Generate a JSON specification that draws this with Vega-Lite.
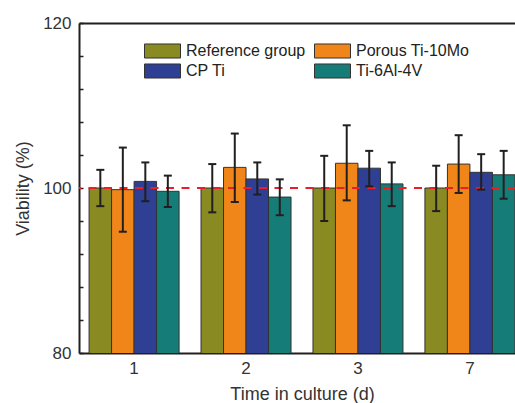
{
  "$schema": "https://vega.github.io/schema/vega-lite/v6.json",
  "width": 436,
  "height": 330,
  "autosize": {"type": "none"},
  "padding": {"left": 79, "top": 23, "right": 0, "bottom": 50},
  "background": "white",
  "config": {
    "view": {"stroke": null},
    "font": "Liberation Sans",
    "axis": {"grid": false, "labelColor": "#333333", "titleColor": "#333333", "titleFontWeight": "normal", "domainColor": "#231f20", "tickColor": "#231f20"}
  },
  "data": {
    "values": [
      {"day": "1", "group": "Reference group", "mean": 100.0, "lower": 97.8, "upper": 102.2},
      {"day": "1", "group": "Porous Ti-10Mo", "mean": 99.8, "lower": 94.7, "upper": 104.9},
      {"day": "1", "group": "CP Ti", "mean": 100.8, "lower": 98.4, "upper": 103.1},
      {"day": "1", "group": "Ti-6Al-4V", "mean": 99.6, "lower": 97.7, "upper": 101.5},
      {"day": "2", "group": "Reference group", "mean": 100.0, "lower": 97.05, "upper": 102.9},
      {"day": "2", "group": "Porous Ti-10Mo", "mean": 102.5, "lower": 98.3, "upper": 106.6},
      {"day": "2", "group": "CP Ti", "mean": 101.1, "lower": 99.2, "upper": 103.1},
      {"day": "2", "group": "Ti-6Al-4V", "mean": 98.9, "lower": 96.7, "upper": 101.05},
      {"day": "3", "group": "Reference group", "mean": 100.0, "lower": 96.0, "upper": 103.9},
      {"day": "3", "group": "Porous Ti-10Mo", "mean": 103.0, "lower": 98.5, "upper": 107.6},
      {"day": "3", "group": "CP Ti", "mean": 102.4, "lower": 100.2, "upper": 104.5},
      {"day": "3", "group": "Ti-6Al-4V", "mean": 100.5, "lower": 97.8, "upper": 103.1},
      {"day": "7", "group": "Reference group", "mean": 100.0, "lower": 97.2, "upper": 102.7},
      {"day": "7", "group": "Porous Ti-10Mo", "mean": 102.9, "lower": 99.4, "upper": 106.4},
      {"day": "7", "group": "CP Ti", "mean": 101.9, "lower": 99.8, "upper": 104.1},
      {"day": "7", "group": "Ti-6Al-4V", "mean": 101.6, "lower": 98.7, "upper": 104.5}
    ]
  },
  "resolve": {"axis": {"x": "independent", "y": "independent"}},
  "layer": [
    {
      "mark": {"type": "bar", "stroke": "#333333", "strokeWidth": 1, "clip": true},
      "encoding": {
        "x": {
          "field": "day", "type": "nominal", "sort": ["1", "2", "3", "7"],
          "scale": {"range": [0, 446], "paddingInner": 0.196, "paddingOuter": 0.09},
          "axis": {"orient": "bottom", "ticks": false, "labelAngle": 0, "labelFontSize": 17, "labelPadding": 7, "domainWidth": 2, "title": "Time in culture (d)", "titleFontSize": 18, "titlePadding": 9}
        },
        "xOffset": {
          "field": "group", "type": "nominal",
          "sort": ["Reference group", "Porous Ti-10Mo", "CP Ti", "Ti-6Al-4V"],
          "scale": {"paddingInner": 0, "paddingOuter": 0}
        },
        "y": {
          "field": "mean", "type": "quantitative",
          "scale": {"domain": [80, 120], "nice": false, "zero": false},
          "axis": {
            "orient": "left",
            "values": [80, 84, 88, 92, 96, 100, 104, 108, 112, 116, 120],
            "labels": false, "domain": false, "title": null,
            "tickSize": -4, "tickWidth": 1.5
          }
        },
        "color": {
          "field": "group", "type": "nominal",
          "scale": {"domain": ["Reference group", "Porous Ti-10Mo", "CP Ti", "Ti-6Al-4V"], "range": ["#8a8a22", "#f08519", "#2e3f94", "#167c77"]},
          "legend": {
            "orient": "none", "legendX": 65, "legendY": 20, "columns": 2, "direction": "horizontal", "title": null,
            "symbolType": "M-1,-0.39H1V0.39H-1Z", "symbolSize": 1296,
            "symbolStrokeColor": "#333333", "symbolStrokeWidth": 1, "symbolOpacity": 1,
            "labelFontSize": 16, "labelColor": "#222222", "labelOffset": 5,
            "clipHeight": 16, "columnPadding": 8, "rowPadding": 4, "padding": 0
          }
        }
      }
    },
    {
      "data": {"values": [{"ref": 100}]},
      "mark": {"type": "rule", "color": "#ee1c25", "strokeWidth": 2, "strokeDash": [8, 7.5]},
      "encoding": {
        "y": {
          "field": "ref", "type": "quantitative",
          "axis": {
            "orient": "left", "values": [80, 100, 120], "ticks": false,
            "domainWidth": 2, "labelFontSize": 17, "labelPadding": 8,
            "title": "Viability (%)", "titleFontSize": 18, "titlePadding": 10
          }
        }
      }
    },
    {
      "mark": {"type": "rule", "color": "#231f20", "strokeWidth": 2},
      "encoding": {
        "x": {"field": "day", "type": "nominal", "sort": ["1", "2", "3", "7"], "axis": null},
        "xOffset": {"field": "group", "type": "nominal", "sort": ["Reference group", "Porous Ti-10Mo", "CP Ti", "Ti-6Al-4V"]},
        "y": {"field": "lower", "type": "quantitative", "axis": null},
        "y2": {"field": "upper"}
      }
    },
    {
      "mark": {"type": "tick", "orient": "horizontal", "color": "#231f20", "size": 8, "thickness": 2, "opacity": 1},
      "encoding": {
        "x": {"field": "day", "type": "nominal", "sort": ["1", "2", "3", "7"], "axis": null},
        "xOffset": {"field": "group", "type": "nominal", "sort": ["Reference group", "Porous Ti-10Mo", "CP Ti", "Ti-6Al-4V"]},
        "y": {"field": "lower", "type": "quantitative", "axis": null}
      }
    },
    {
      "mark": {"type": "tick", "orient": "horizontal", "color": "#231f20", "size": 8, "thickness": 2, "opacity": 1},
      "encoding": {
        "x": {"field": "day", "type": "nominal", "sort": ["1", "2", "3", "7"], "axis": {"orient": "top", "labels": false, "ticks": false, "title": null, "domainWidth": 2}},
        "xOffset": {"field": "group", "type": "nominal", "sort": ["Reference group", "Porous Ti-10Mo", "CP Ti", "Ti-6Al-4V"]},
        "y": {"field": "upper", "type": "quantitative", "axis": null}
      }
    }
  ]
}
